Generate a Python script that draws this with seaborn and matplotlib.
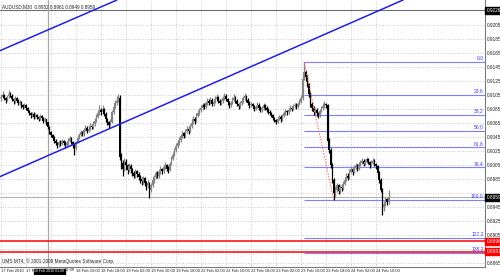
import matplotlib
matplotlib.use("Agg")
import matplotlib.pyplot as plt
import numpy as np
import pandas as pd
import seaborn as sns

# ---------------- data (prices in pips above 0.8800) ----------------
BASE = 0.8800
PIP = 0.0001

opens = [300, 302, 305, 300, 298, 303, 307, 304, 299, 296,
         300, 297, 293, 295, 290, 288, 291, 286, 282, 279,
         276, 278, 274, 277, 273, 271, 275, 272, 268, 270,
         266, 259, 252, 248, 244, 240, 236, 233, 238, 235,
         239, 237, 233, 236, 240, 243, 238, 234, 230, 238,
         244, 248, 252, 249, 255, 258, 254, 257, 261, 259,
         263, 268, 274, 279, 283, 280, 285, 278, 270, 266,
         262, 267, 280, 288, 294, 297, 301, 216, 208, 200,
         210, 205, 198, 204, 199, 194, 190, 196, 192, 188,
         185, 182, 186, 179, 175, 180, 170, 176, 183, 188,
         193, 190, 195, 199, 196, 202, 205, 200, 198, 207,
         214, 220, 226, 232, 236, 241, 246, 250, 247, 253,
         256, 254, 260, 265, 270, 268, 275, 279, 283, 286,
         290, 288, 293, 297, 294, 298, 292, 295, 299, 302,
         297, 293, 296, 300, 304, 299, 295, 291, 294, 298,
         301, 297, 292, 289, 293, 296, 300, 303, 298, 294,
         290, 292, 289, 285, 288, 291, 287, 283, 286, 290,
         287, 284, 281, 279, 276, 272, 269, 267, 271, 274,
         270, 275, 279, 282, 280, 284, 287, 285, 289, 291,
         288, 292, 295, 300, 328, 338, 330, 320, 306, 292,
         286, 281, 284, 279, 276, 282, 286, 289, 292, 290,
         240, 226, 205, 184, 165, 170, 176, 168, 174, 172,
         178, 184, 190, 187, 195, 199, 195, 201, 204, 200,
         206, 208, 211, 207, 210, 213, 209, 205, 208, 211,
         206, 203, 194, 184, 170, 145, 150, 156, 152]

highs = [306, 310, 307, 302, 305, 312, 309, 306, 301, 303,
         302, 299, 298, 296, 292, 294, 292, 288, 284, 281,
         281, 280, 279, 278, 275, 278, 277, 274, 273, 271,
         267, 261, 254, 250, 246, 242, 238, 240, 241, 242,
         241, 239, 238, 243, 247, 245, 240, 236, 240, 247,
         251, 255, 254, 258, 262, 260, 260, 265, 264, 268,
         272, 278, 283, 290, 286, 291, 287, 280, 272, 268,
         270, 283, 292, 298, 303, 306, 305, 222, 212, 215,
         213, 207, 208, 206, 201, 197, 199, 198, 195, 191,
         188, 189, 188, 182, 184, 181, 179, 186, 191, 196,
         197, 199, 203, 201, 205, 209, 207, 203, 210, 218,
         224, 230, 236, 240, 245, 250, 254, 252, 257, 261,
         259, 264, 270, 275, 273, 279, 284, 287, 290, 294,
         293, 297, 301, 299, 302, 300, 298, 303, 306, 304,
         299, 299, 304, 308, 306, 301, 297, 297, 302, 306,
         303, 299, 294, 296, 299, 303, 308, 305, 300, 296,
         295, 294, 291, 291, 295, 293, 289, 289, 294, 292,
         289, 286, 283, 281, 278, 274, 271, 274, 277, 276,
         278, 282, 285, 284, 287, 290, 289, 292, 294, 293,
         295, 299, 305, 332, 352, 341, 333, 322, 309, 295,
         289, 287, 286, 281, 285, 289, 293, 296, 294, 292,
         243, 229, 208, 187, 175, 179, 178, 177, 178, 182,
         188, 194, 193, 199, 203, 201, 205, 208, 206, 210,
         212, 215, 213, 214, 217, 215, 211, 212, 215, 213,
         208, 205, 196, 186, 172, 154, 160, 158, 170]

lows = [296, 300, 298, 294, 296, 301, 302, 297, 292, 294,
        295, 290, 291, 287, 285, 286, 283, 280, 276, 272,
        274, 271, 272, 270, 268, 269, 269, 265, 266, 262,
        256, 249, 245, 241, 237, 233, 230, 231, 232, 233,
        234, 230, 231, 234, 238, 235, 229, 219, 227, 236,
        242, 246, 246, 247, 253, 251, 252, 255, 256, 257,
        261, 266, 272, 277, 277, 278, 275, 267, 262, 258,
        260, 265, 278, 286, 291, 295, 212, 200, 190, 196,
        198, 192, 195, 194, 189, 186, 187, 188, 184, 180,
        177, 178, 175, 170, 172, 158, 166, 173, 180, 185,
        186, 187, 192, 192, 193, 199, 196, 194, 196, 205,
        212, 218, 223, 229, 233, 238, 243, 243, 245, 251,
        250, 252, 258, 263, 264, 266, 273, 276, 281, 284,
        285, 286, 291, 290, 292, 289, 289, 293, 297, 294,
        290, 290, 294, 298, 296, 291, 287, 288, 292, 296,
        294, 289, 285, 287, 291, 294, 298, 295, 291, 287,
        288, 286, 282, 283, 286, 284, 280, 281, 284, 284,
        281, 278, 276, 273, 269, 266, 263, 265, 269, 267,
        268, 273, 277, 277, 278, 282, 282, 283, 287, 285,
        286, 290, 293, 298, 326, 325, 316, 302, 288, 282,
        277, 278, 275, 272, 274, 280, 284, 287, 286, 236,
        222, 201, 180, 155, 160, 166, 164, 165, 168, 170,
        176, 182, 183, 185, 193, 191, 193, 199, 196, 198,
        204, 206, 204, 205, 208, 206, 201, 203, 206, 203,
        199, 190, 180, 166, 134, 140, 146, 148, 150]

closes = [302, 305, 300, 298, 303, 307, 304, 299, 296, 300,
          297, 293, 295, 290, 288, 291, 286, 282, 279, 276,
          278, 274, 277, 273, 271, 275, 272, 268, 270, 266,
          259, 252, 248, 244, 240, 236, 233, 238, 235, 239,
          237, 233, 236, 240, 243, 238, 234, 230, 238, 244,
          248, 252, 249, 255, 258, 254, 257, 261, 259, 263,
          268, 274, 279, 283, 280, 285, 278, 270, 266, 262,
          267, 280, 288, 294, 297, 301, 216, 208, 200, 210,
          205, 198, 204, 199, 194, 190, 196, 192, 188, 185,
          182, 186, 179, 175, 180, 170, 176, 183, 188, 193,
          190, 195, 199, 196, 202, 205, 200, 198, 207, 214,
          220, 226, 232, 236, 241, 246, 250, 247, 253, 256,
          254, 260, 265, 270, 268, 275, 279, 283, 286, 290,
          288, 293, 297, 294, 298, 292, 295, 299, 302, 297,
          293, 296, 300, 304, 299, 295, 291, 294, 298, 301,
          297, 292, 289, 293, 296, 300, 303, 298, 294, 290,
          292, 289, 285, 288, 291, 287, 283, 286, 290, 287,
          284, 281, 279, 276, 272, 269, 267, 271, 274, 270,
          275, 279, 282, 280, 284, 287, 285, 289, 291, 288,
          292, 295, 300, 328, 338, 330, 320, 306, 292, 286,
          281, 284, 279, 276, 282, 286, 289, 292, 290, 240,
          226, 205, 184, 165, 170, 176, 168, 174, 172, 178,
          184, 190, 187, 195, 199, 195, 201, 204, 200, 206,
          208, 211, 207, 210, 213, 209, 205, 208, 211, 206,
          203, 194, 184, 170, 145, 150, 156, 152, 159]

time_labels = ["17 Feb 2010", "17 Feb 18:00", "18 Feb 02:00", "18 Feb 10:00",
               "18 Feb 18:00", "19 Feb 02:00", "19 Feb 10:00", "19 Feb 18:00",
               "22 Feb 02:00", "22 Feb 10:00", "22 Feb 18:00", "23 Feb 02:00",
               "23 Feb 10:00", "23 Feb 18:00", "24 Feb 02:00", "24 Feb 10:00"]
time_label_bars = [0, 16, 32, 48, 64, 80, 96, 112, 128, 144, 160, 176, 192, 208, 224, 240]

price_ticks = [0.9205, 0.9185, 0.9165, 0.9145, 0.9125, 0.9105, 0.9085, 0.9065, 0.9045,
               0.9025, 0.9005, 0.8985, 0.8965, 0.8945, 0.8925, 0.8905, 0.8885, 0.8865]

title_text = "AUDUSD,M30  0.8952 0.8961 0.8949 0.8959"
copyright_text = "UMS MT4, \u00a9 2001-2009 MetaQuotes Software Corp."

fib_levels = [0.0, 23.6, 38.2, 50.0, 61.8, 76.4, 100.0, 127.2, 138.2]
fib_labels = ["0.0", "23.6", "38.2", "50.0", "61.8", "76.4", "100.0", "127.2", "138.2"]
fib_start_bar, fib_high = 194, 0.9152
fib_end_bar, fib_low = 213, 0.8955

trend_main = [(1.0, 0.8990), (257.3, 0.92407)]
trend_upper = [(31.4, 0.91993), (74.2, 0.92407)]

red_lines = [0.8896, 0.8881]
bid_price = 0.8959
top_line_price = 0.9226
vline_bar = 30.3
vline_label = "18 Feb 2010 01:00"

# ---------------- styling ----------------
sns.set_theme(style="white")
plt.rcParams["font.family"] = ["Liberation Sans", "DejaVu Sans"]

fig = plt.figure(figsize=(5.0, 2.75), dpi=100)
ax = fig.add_axes([0.0, 8 / 275, 485 / 500, 267 / 275])
ax.set_facecolor("white")

o = np.array(opens) * PIP + BASE
h = np.array(highs) * PIP + BASE
l = np.array(lows) * PIP + BASE
c = np.array(closes) * PIP + BASE
x = np.arange(len(o))
up = c >= o
cols = np.where(up, "#858585", "#000000")

df = pd.DataFrame({"bar": x, "open": o, "high": h, "low": l, "close": c})

# grid
ax.set_xticks(time_label_bars)
ax.set_yticks(price_ticks)
ax.grid(True, ls=(0, (1, 2)), color="#b8b8b8", lw=0.6)
ax.set_axisbelow(True)

# special horizontal lines
ax.axhline(top_line_price, color="#6e6e6e", lw=0.8, zorder=1)
ax.axhline(bid_price, color="#b4b4b4", lw=0.8, zorder=1)
ax.axvline(vline_bar, color="#a8a8a8", lw=0.9, zorder=1)

# candles
ax.vlines(df["bar"], df["low"], df["high"], colors=cols, lw=0.9, zorder=3)
body_lo = np.minimum(o, c)
body_h = np.maximum(np.abs(c - o), 0.00008)
ax.bar(df["bar"], body_h, bottom=body_lo, width=0.95, color=cols, lw=0, zorder=3)

# fibonacci
fib_prices = [fib_high - (fib_high - fib_low) * lv / 100 for lv in fib_levels]
xmin, xmax = -0.64, 309.76
ax.hlines(fib_prices, fib_start_bar, xmax, colors="#7f7fff", lw=0.8, zorder=2)
for p, lab in zip(fib_prices, fib_labels):
    ax.text(xmax - 0.8, p + 0.0001, lab, color="#3a3aff", fontsize=3.6,
            ha="right", va="bottom", zorder=4)
fib_df = pd.DataFrame({"bar": [fib_start_bar, fib_end_bar], "price": [fib_high, fib_low]})
sns.lineplot(data=fib_df, x="bar", y="price", ax=ax, color="#ff6060", lw=0.7,
             linestyle=(0, (1.5, 1.5)), zorder=4)

# red horizontal lines
for p in red_lines:
    ax.axhline(p, color="#ff0000", lw=1.1, zorder=4)

# trendlines
ax.axline(trend_main[0], trend_main[1], color="#1f1fe6", lw=1.1, zorder=4)
ax.axline(trend_upper[0], trend_upper[1], color="#1f1fe6", lw=1.1, zorder=4)

ax.set_xlim(xmin, xmax)
ax.set_ylim(0.8859286, 0.9240714)
ax.set_xlabel("")
ax.set_ylabel("")

# price labels (those hidden behind price boxes are left blank)
boxed = [top_line_price, bid_price] + red_lines
ylabels = []
for p in price_ticks:
    hidden = any(abs(p - b) < 0.0007 for b in boxed)
    ylabels.append("" if hidden else f"{p:.4f}")
ax.yaxis.tick_right()
ax.set_yticklabels(ylabels)

# time labels: the vertical-line box covers part of two of them
xlabels = list(time_labels)
xlabels[1] = time_labels[1][:4]
xlabels[2] = ""
ax.set_xticklabels(xlabels, ha="left")
ax.tick_params(axis="y", length=0, pad=1.2, labelsize=3.4, colors="#202020")
ax.tick_params(axis="x", length=0, pad=1.2, labelsize=3.0, colors="#202020")
xt = ax.get_xaxis_transform()
ax.text(time_label_bars[2] + 8.6, -0.0045, time_labels[2][-5:], transform=xt,
        fontsize=3.0, color="#202020", ha="left", va="top", clip_on=False)

for side in ["left", "top"]:
    ax.spines[side].set_visible(False)
for side in ["right", "bottom"]:
    ax.spines[side].set_color("#7a7a7a")
    ax.spines[side].set_linewidth(0.8)

# price boxes on the right
trans = ax.get_yaxis_transform()
def price_box(p, fc):
    ax.text(1.003, p, f"{p:.4f}", transform=trans, fontsize=3.4, color="white",
            ha="left", va="center", zorder=6, clip_on=False,
            bbox=dict(boxstyle="square,pad=0.25", fc=fc, ec=fc))
price_box(top_line_price, "black")
price_box(bid_price, "black")
for p in red_lines:
    price_box(p, "#ff0000")

# vertical line time box
ax.text(vline_bar + 0.6, -0.016, vline_label, transform=xt, fontsize=2.55, color="white",
        ha="center", va="center", zorder=6, clip_on=False,
        bbox=dict(boxstyle="square,pad=0.15", fc="black", ec="black"))

# title & copyright
ax.text(0.004, 0.985, title_text, transform=ax.transAxes, fontsize=3.3,
        color="#202020", ha="left", va="top", zorder=6)
ax.text(0.004, 0.012, copyright_text, transform=ax.transAxes, fontsize=3.4,
        color="#202020", ha="left", va="bottom", zorder=6)

fig.savefig("out.png", dpi=100, facecolor="white")
